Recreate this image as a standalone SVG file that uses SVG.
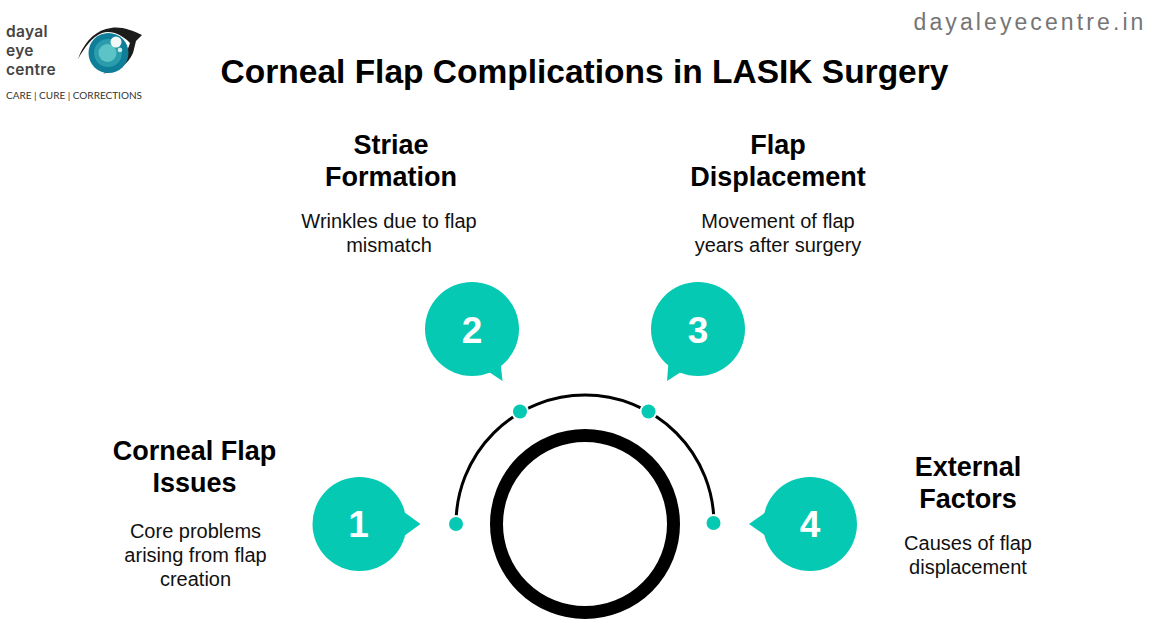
<svg xmlns="http://www.w3.org/2000/svg" width="1170" height="628" viewBox="0 0 1170 628">
<style>
text{font-family:"Liberation Sans",Arial,sans-serif;fill:#000;text-anchor:middle}
.h{font-size:27px;font-weight:700}
.d{font-size:20px;fill:#111}
.n{font-size:37px;font-weight:700;fill:#fff}
.b{fill:#06c9b3}
.logo{font-family:"Inter",sans-serif;font-size:15.500px;letter-spacing:0.300px;font-weight:600;fill:#444;text-anchor:start}
</style>
<rect width="1170" height="628" fill="#fff"/>
<g id="logo">
<text class="logo" x="6" y="37">dayal</text>
<text class="logo" x="6" y="55.500">eye</text>
<text class="logo" x="6" y="74.500">centre</text>
<text x="6" y="99" style="font-family:'Lato',sans-serif;font-size:10px;fill:#333;text-anchor:start">CARE | CURE | CORRECTIONS</text>
<path d="M78 59C83 45 92 33 106 29C118 25 130 29 142 35L136 41L133 53C128 64 118 72 103 73.500C114 69 125 60 130 43C122 35 112 30 102 33C92 37 85 47 78 59Z" fill="#1c1c1c"/>
<circle cx="108.500" cy="53" r="20" fill="#0f7f99"/>
<circle cx="108" cy="53" r="14" fill="#2a9cab"/>
<circle cx="107.500" cy="53" r="9" fill="#5cc3c6"/>
<circle cx="116" cy="42" r="5.500" fill="#f2f8f8"/>
<circle cx="120" cy="50" r="2.300" fill="#cfeeee"/>
</g>
<text x="1030" y="30" style="font-size:23px;letter-spacing:3.100px;fill:#757575">dayaleyecentre.in</text>
<text id="title" x="584.500" y="83" style="font-size:33.500px;font-weight:700">Corneal Flap Complications in LASIK Surgery</text>
<g id="connectors">
<path d="M456 524A129 129 0 0 1 714 524" fill="none" stroke="#000" stroke-width="3"/>
</g>
<g id="hub"><circle cx="585" cy="524" r="88.500" fill="#fff" stroke="#000" stroke-width="13"/></g>
<g id="node-1">
<circle class="b" cx="359.500" cy="524" r="47"/><path class="b" d="M404 512L420.500 524L404 536Z"/>
<circle cx="456" cy="524" r="9" fill="#fff"/><circle class="b" cx="456" cy="524" r="7"/>
<text class="n" x="358.500" y="537">1</text>
<text class="h" x="194.500" y="460">Corneal Flap</text><text class="h" x="194.500" y="492">Issues</text>
<text class="d" x="195.500" y="538">Core problems</text><text class="d" x="195.500" y="562">arising from flap</text><text class="d" x="195.500" y="586">creation</text>
</g>
<g id="node-2">
<circle class="b" cx="472" cy="329" r="47"/><path class="b" d="M489 372L502.500 381L500.500 362Z"/>
<circle cx="520" cy="411.500" r="9" fill="#fff"/><circle class="b" cx="520" cy="411.500" r="7"/>
<text class="n" x="472" y="343">2</text>
<text class="h" x="391" y="154">Striae</text><text class="h" x="391" y="186">Formation</text>
<text class="d" x="389" y="228">Wrinkles due to flap</text><text class="d" x="389" y="252">mismatch</text>
</g>
<g id="node-3">
<circle class="b" cx="698" cy="329" r="47"/><path class="b" d="M681 372L667 381L668.500 362Z"/>
<circle cx="648.500" cy="411.500" r="9" fill="#fff"/><circle class="b" cx="648.500" cy="411.500" r="7"/>
<text class="n" x="698" y="343">3</text>
<text class="h" x="778" y="154">Flap</text><text class="h" x="778" y="186">Displacement</text>
<text class="d" x="778" y="228">Movement of flap</text><text class="d" x="778" y="252">years after surgery</text>
</g>
<g id="node-4">
<circle class="b" cx="810" cy="524" r="47"/><path class="b" d="M766 512L749 524L766 536Z"/>
<circle cx="713.500" cy="523" r="9" fill="#fff"/><circle class="b" cx="713.500" cy="523" r="7"/>
<text class="n" x="810" y="537">4</text>
<text class="h" x="968" y="476">External</text><text class="h" x="968" y="508">Factors</text>
<text class="d" x="968" y="550">Causes of flap</text><text class="d" x="968" y="574">displacement</text>
</g>
</svg>
